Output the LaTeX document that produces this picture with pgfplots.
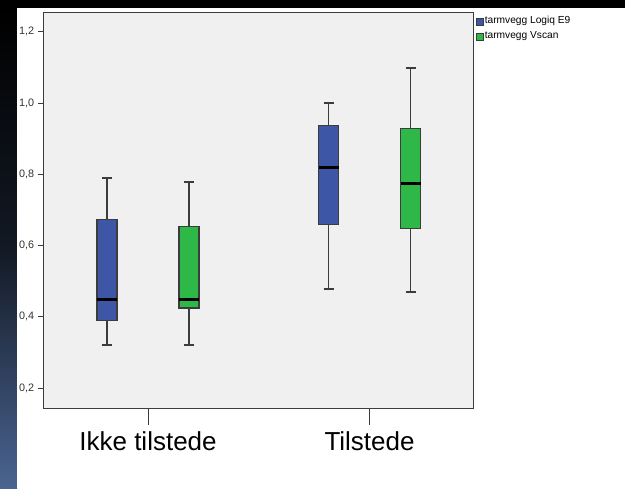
\documentclass[border=0pt]{standalone}
\usepackage{pgfplots}
\pgfplotsset{compat=1.18}
\usepgfplotslibrary{statistics}
\usepackage{fontspec}
\setmainfont{Liberation Sans}
\definecolor{spssblue}{RGB}{62,86,166}
\definecolor{spssgreen}{RGB}{46,184,72}
\definecolor{plotbg}{RGB}{240,240,240}
\definecolor{stripblue}{RGB}{74,100,145}
\definecolor{framegray}{RGB}{60,60,60}
\pgfplotsset{squarelegend/.style={legend image code/.code={\draw[##1] (0pt,-1.75pt) rectangle (3.5pt,1.75pt);}}}
\begin{document}
\begin{tikzpicture}[x=1pt,y=1pt]
\path[use as bounding box] (0,0) rectangle (312.5,244);
\fill[black] (0,0) rectangle (312.5,244);
\shade[top color=black, bottom color=stripblue, middle color=black!75!stripblue] (0,0) rectangle (8.5,240);
\fill[white] (8.5,0) rectangle (312.5,240);
\begin{axis}[
  at={(22pt,40pt)}, anchor=south west,
  scale only axis, width=214.5pt, height=197.5pt,
  xmin=-0.4695, xmax=1.467, ymin=0.144, ymax=1.253,
  axis background/.style={fill=plotbg},
  axis line style={draw=framegray, line width=0.5pt},
  tick pos=left, tick align=outside,
  xtick={0,1}, xticklabels={Ikke tilstede, Tilstede},
  ytick={0.2,0.4,0.6,0.8,1.0,1.2},
  yticklabel style={/pgf/number format/.cd, fixed, fixed zerofill, precision=1, use comma, /tikz/.cd,
    font=\fontsize{5.4}{6}\selectfont, text=black!80, inner sep=0.5pt},
  /pgf/number format/assume math mode=true,
  xticklabel style={font=\fontsize{13}{15}\selectfont, yshift=-4pt},
  x tick style={/pgfplots/major tick length=8.5pt, draw=framegray, line width=0.5pt},
  y tick style={/pgfplots/major tick length=3pt, draw=framegray, line width=0.5pt},
  legend style={draw=none, fill=none, at={(1,1)}, anchor=north west, xshift=1.2pt, yshift=-1pt,
    font=\fontsize{5.1}{6}\selectfont, inner sep=0pt, row sep=1.2pt,
    nodes={inner sep=0.6pt}},
  legend cell align=left,
  legend entries={tarmvegg Logiq E9, tarmvegg Vscan},
  boxplot/draw direction=y,
  boxplot/every median/.style={draw=black, line width=1.5pt},
  boxplot/every box/.style={draw=framegray, line width=0.6pt},
  boxplot/every whisker/.style={draw=framegray, line width=0.9pt},
]
\addlegendimage{fill=spssblue, draw=framegray, squarelegend}
\addlegendimage{fill=spssgreen, draw=framegray, squarelegend}

\addplot[boxplot prepared={draw position=-0.185, lower whisker=0.320, lower quartile=0.389, median=0.449, upper quartile=0.674, upper whisker=0.789, box extend=0.09, whisker extend=0.045}, fill=spssblue, draw=framegray, mark=none] coordinates {};
\addplot[boxplot prepared={draw position=0.185, lower whisker=0.320, lower quartile=0.425, median=0.449, upper quartile=0.653, upper whisker=0.779, box extend=0.09, whisker extend=0.045}, fill=spssgreen, draw=framegray, mark=none] coordinates {};
\addplot[boxplot prepared={draw position=0.815, lower whisker=0.479, lower quartile=0.660, median=0.819, upper quartile=0.938, upper whisker=1.000, box extend=0.09, whisker extend=0.045}, fill=spssblue, draw=framegray, mark=none] coordinates {};
\addplot[boxplot prepared={draw position=1.185, lower whisker=0.470, lower quartile=0.649, median=0.774, upper quartile=0.928, upper whisker=1.098, box extend=0.09, whisker extend=0.045}, fill=spssgreen, draw=framegray, mark=none] coordinates {};
\end{axis}
\end{tikzpicture}
\end{document}
